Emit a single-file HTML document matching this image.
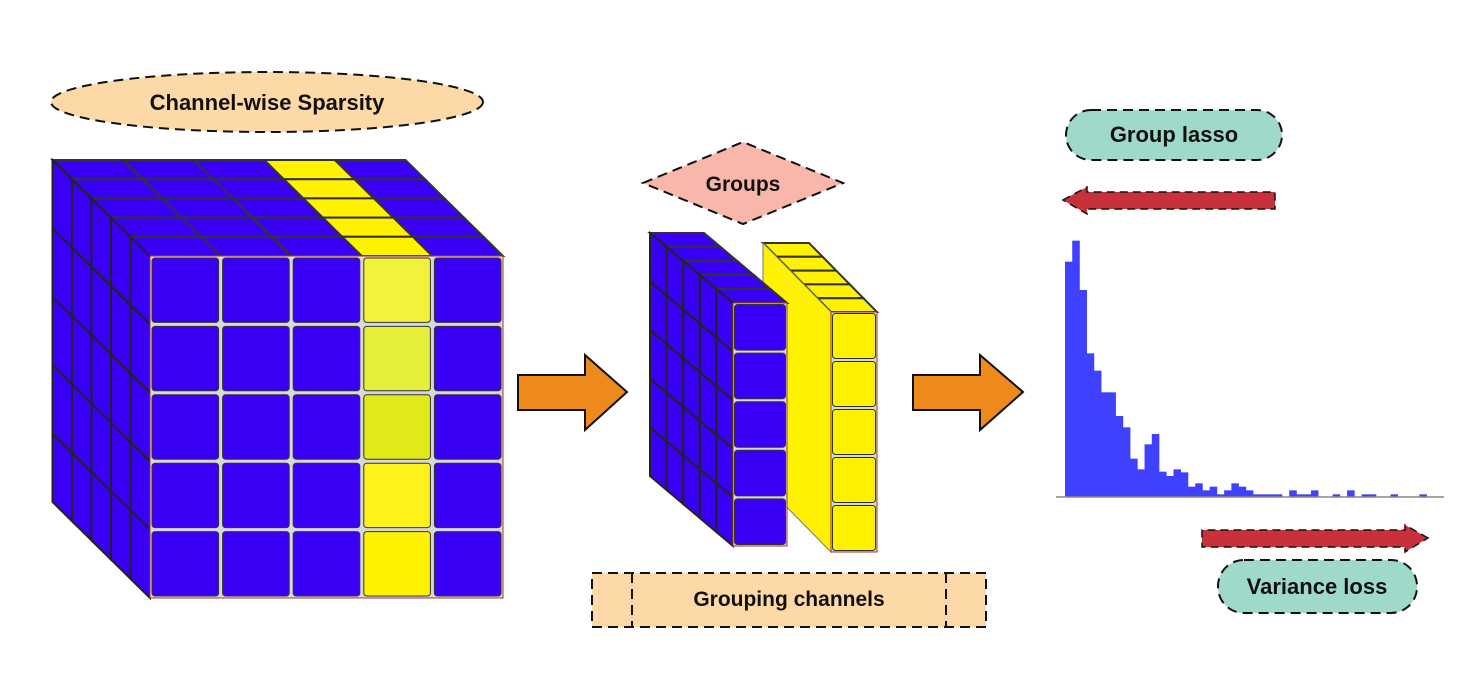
<!DOCTYPE html>
<html><head><meta charset="utf-8"><style>
html,body{margin:0;padding:0;background:#fff;}
svg{display:block}
text{font-family:"Liberation Sans",sans-serif;font-weight:bold;fill:#111}
</style></head><body>
<svg id="s" width="1477" height="676" viewBox="0 0 1477 676" xmlns="http://www.w3.org/2000/svg">
<ellipse cx="267" cy="102" rx="216" ry="30" fill="#fdd9a8" stroke="#111" stroke-width="2" stroke-dasharray="10,6"/>
<text x="267" y="110" font-size="22" text-anchor="middle">Channel-wise Sparsity</text>
<polygon points="643,183 743,142 843,183 743,224" fill="#f9b6aa" stroke="#111" stroke-width="2" stroke-dasharray="10,6"/>
<text x="743" y="191" font-size="21" text-anchor="middle">Groups</text>
<rect x="592" y="573" width="394" height="54" fill="#fdd9a8" stroke="#111" stroke-width="2" stroke-dasharray="10,6"/>
<line x1="632" y1="573" x2="632" y2="627" stroke="#111" stroke-width="2" stroke-dasharray="10,6"/>
<line x1="946" y1="573" x2="946" y2="627" stroke="#111" stroke-width="2" stroke-dasharray="10,6"/>
<text x="789" y="606" font-size="21" text-anchor="middle">Grouping channels</text>
<rect x="1066" y="110" width="216" height="50" rx="25" fill="#9fd9c9" stroke="#111" stroke-width="2" stroke-dasharray="10,6"/>
<text x="1174" y="142" font-size="22" text-anchor="middle">Group lasso</text>
<rect x="1218" y="560" width="199" height="53" rx="26" fill="#9fd9c9" stroke="#111" stroke-width="2" stroke-dasharray="10,6"/>
<text x="1317" y="594" font-size="22" text-anchor="middle">Variance loss</text>
<polygon points="1063,200 1087,187 1087,192 1275,192 1275,209 1087,209 1087,214" fill="#c8303a" stroke="#111" stroke-width="1.5" stroke-dasharray="8,5"/>
<polygon points="1428,538 1405,525 1405,530 1202,530 1202,547 1405,547 1405,552" fill="#c8303a" stroke="#111" stroke-width="1.5" stroke-dasharray="8,5"/>
<polygon points="518,375 585,375 585,355 627,392 585,430 585,410 518,410" fill="#ee8a1c" stroke="#111" stroke-width="2"/>
<polygon points="913,375 980,375 980,355 1023,392 980,430 980,410 913,410" fill="#ee8a1c" stroke="#111" stroke-width="2"/>
<g id="cube"></g><g id="slabs"></g><g id="hist"></g>
<line x1="1056" y1="497" x2="1444" y2="497" stroke="#888" stroke-width="1.5"/>
</svg>
<script>
const NS="http://www.w3.org/2000/svg";
function poly(g,pts,fill,stroke,sw){const p=document.createElementNS(NS,"polygon");p.setAttribute("points",pts.map(a=>a[0].toFixed(1)+","+a[1].toFixed(1)).join(" "));p.setAttribute("fill",fill);p.setAttribute("stroke",stroke||"#222");p.setAttribute("stroke-width",sw||2);g.appendChild(p);}
function rect(g,x,y,w,h,fill,stroke,sw,rx){const r=document.createElementNS(NS,"rect");r.setAttribute("x",x);r.setAttribute("y",y);r.setAttribute("width",w);r.setAttribute("height",h);r.setAttribute("fill",fill);if(stroke){r.setAttribute("stroke",stroke);r.setAttribute("stroke-width",sw);}if(rx)r.setAttribute("rx",rx);g.appendChild(r);}
const B="#3a00f5",Y="#fff200";
function block(g,fx,fy,cols,rows,cw,ch,layers,dx,dy,colColor,frontGap,solidSide){
 for(let k=layers;k>=1;k--)for(let i=0;i<cols;i++){
  const x0=fx+i*cw+k*dx,y0=fy+k*dy;
  poly(g,[[x0,y0],[x0+cw,y0],[x0+cw-dx,y0-dy],[x0-dx,y0-dy]],colColor(i),"#333",2);
 }
 if(solidSide){
  const H=rows*ch;
  poly(g,[[fx,fy],[fx+layers*dx,fy+layers*dy],[fx+layers*dx,fy+layers*dy+H],[fx,fy+H]],colColor(0),"#777",1);
 } else {
 for(let k=layers;k>=1;k--)for(let j=0;j<rows;j++){
  const x0=fx+k*dx,y0=fy+j*ch+k*dy;
  poly(g,[[x0,y0],[x0-dx,y0-dy],[x0-dx,y0-dy+ch],[x0,y0+ch]],colColor(0),"#222",2);
 }}
 rect(g,fx,fy,cols*cw,rows*ch,"#d8d8d8","#a33",1);
 for(let i=0;i<cols;i++)for(let j=0;j<rows;j++){
  rect(g,fx+i*cw+frontGap,fy+j*ch+frontGap,cw-2*frontGap,ch-2*frontGap,colColor(i,j),"#333",1,3);
 }
}
const ys=["#f2f23a","#e4ef3a","#e0ea18","#fff21a","#fff200"];
block(document.getElementById("cube"),150,256,5,5,70.6,68.4,5,-19.5,-19.2,(i,j)=>i==3?(j===undefined?Y:ys[j]):B,2);
const sl=document.getElementById("slabs");
block(sl,763+68,243+69,1,5,46,48,5,-13.6,-13.8,()=>Y,1.5,true);
block(sl,650+83,233+70,1,5,54,48.6,5,-16.6,-14,()=>B,1.5);
const tops=[95,32,180,370,422,487,487,558,592,686,718,643,612,725,738,718,727,770,760,781,770,793,781,760,770,781,793,793,793,793,null,781,793,793,781,null,null,793,null,781,null,793,793,null,null,793,null,null,null,793];
const h=document.getElementById("hist");
tops.forEach((t,k)=>{if(t===null)return;const zx=45+k*21.7;const y=230+t/3;rect(h,1050+zx/3,y,21.7/3+0.3,496.7-y,"#4040ff");});
</script>
</body></html>
